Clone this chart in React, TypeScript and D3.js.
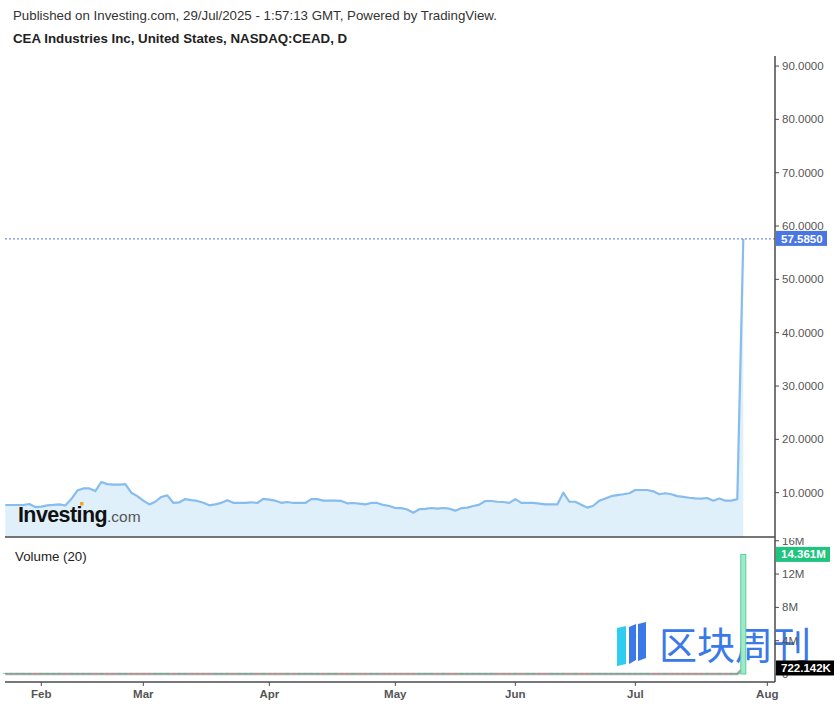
import React from "react";
import * as d3 from "d3";

// Daily closes (bar index 0 = late Jan 2025, last = 28 Jul 2025)
const closes: number[] = [
  7.69, 7.69, 7.69, 7.69, 7.88, 7.3, 7.4, 7.63, 7.7, 7.8,
  7.6, 8.8, 10.4, 10.8, 10.8, 10.3, 12.0, 11.6, 11.5, 11.5,
  11.6, 10.0, 9.35, 8.5, 7.8, 8.3, 9.2, 9.5, 8.1, 8.2,
  8.8, 8.6, 8.45, 8.1, 7.63, 7.8, 8.1, 8.6, 8.1, 8.1,
  8.1, 8.2, 8.07, 8.85, 8.7, 8.5, 8.1, 8.25, 8.07, 8.07,
  8.07, 8.8, 8.8, 8.5, 8.5, 8.5, 8.45, 8.0, 8.07, 7.95,
  7.8, 8.07, 8.07, 7.7, 7.5, 7.13, 7.1, 6.85, 6.25, 6.9,
  6.95, 7.13, 7.0, 7.13, 7.0, 6.63, 7.1, 7.2, 7.5, 7.75,
  8.44, 8.44, 8.3, 8.25, 8.1, 8.8, 8.1, 8.1, 8.1, 7.95,
  7.8, 7.8, 7.8, 10.0, 8.3, 8.3, 7.75, 7.2, 7.55, 8.5,
  8.9, 9.35, 9.55, 9.7, 9.9, 10.5, 10.5, 10.5, 10.25, 9.7,
  9.9, 9.7, 9.35, 9.2, 9.05, 8.95, 8.9, 9.0, 8.5, 8.9,
  8.5, 8.5, 8.8, 57.585,
];

// Daily volume, thousands of shares
const volumesK: number[] = [
  5, 4, 3, 5, 9, 12, 5, 4, 3, 6,
  8, 25, 40, 18, 10, 15, 30, 12, 8, 6,
  5, 14, 9, 11, 7, 6, 10, 8, 5, 4,
  6, 5, 4, 7, 5, 4, 6, 9, 4, 3,
  5, 4, 3, 8, 6, 5, 4, 5, 3, 4,
  3, 9, 6, 4, 3, 4, 3, 5, 3, 4,
  3, 5, 4, 6, 5, 8, 6, 5, 12, 5,
  4, 3, 4, 3, 4, 6, 5, 4, 5, 6,
  9, 5, 4, 4, 3, 6, 4, 3, 3, 4,
  3, 3, 3, 14, 5, 4, 5, 6, 5, 8,
  7, 6, 5, 4, 11.84, 5, 4, 3, 4, 5,
  4, 4, 3, 4, 3, 3, 4, 3, 5, 3,
  4, 4, 5, 14361,
];

const monthLabels = ["Feb", "Mar", "Apr", "May", "Jun", "Jul", "Aug"];
const monthStartIndex = [6, 23, 44, 65, 85, 105, 127];
const priceTicks = [10, 20, 30, 40, 50, 60, 70, 80, 90];
const volumeTicks = [0, 4e6, 8e6, 12e6, 16e6];
const volumeTickLabels = ["0", "4M", "8M", "12M", "16M"];
const maWindow = 20;

const headerLine1 =
  "Published on Investing.com, 29/Jul/2025 - 1:57:13 GMT, Powered by TradingView.";
const headerLine2 = "CEA Industries Inc, United States, NASDAQ:CEAD, D";

const FONT = "'Liberation Sans', Arial, Helvetica, sans-serif";

export default function App() {
  const W = 840;
  const H = 704;
  const paneLeft = 5;
  const axisX = 775;
  const priceTop = 56;
  const priceBottom = 537;
  const volBottom = 682;

  const x = d3.scaleLinear().domain([0, 127]).range([5.3, 5.3 + 127 * 6]);
  const yP = d3.scaleLinear().domain([1.69, 91.88]).range([priceBottom, priceTop]);
  const yV = d3.scaleLinear().domain([-0.96e6, 16.45e6]).range([volBottom, priceBottom]);

  const line = d3
    .line<number>()
    .x((_, i) => x(i))
    .y((d) => yP(d));
  const area = d3
    .area<number>()
    .x((_, i) => x(i))
    .y0(priceBottom)
    .y1((d) => yP(d));

  const vols = volumesK.map((v) => v * 1000);
  const ma = vols.map((_, i) => d3.mean(vols.slice(Math.max(0, i - maWindow + 1), i + 1)) as number);
  const maLine = d3
    .line<number>()
    .x((_, i) => x(i))
    .y((d) => yV(d));

  const last = closes[closes.length - 1];
  const lastVol = vols[vols.length - 1];
  const lastMA = ma[ma.length - 1];
  const fmtVol = (v: number) =>
    v >= 1e6 ? d3.format(".3f")(v / 1e6) + "M" : d3.format(".3f")(v / 1e3) + "K";

  const barW = 5;

  return (
    <div style={{ position: "fixed", left: 0, top: 0, width: W, height: H, background: "#fff" }}>
      <svg width={W} height={H} style={{ display: "block", fontFamily: FONT }}>
        <defs>
          <clipPath id="volClip">
            <rect x={0} y={priceBottom + 1} width={W} height={volBottom - priceBottom - 1} />
          </clipPath>
        </defs>
        <rect x={0} y={0} width={W} height={H} fill="#fff" />
        <text x={13} y={20} fontSize={13.3} fill="#333">{headerLine1}</text>
        <text x={13} y={43} fontSize={13.3} fontWeight="bold" fill="#222">{headerLine2}</text>

        {/* price area + line */}
        <path d={area(closes) ?? ""} fill="#dff0fa" />
        <path d={line(closes) ?? ""} fill="none" stroke="#86bcee" strokeWidth={2.2} strokeLinejoin="round" />

        {/* last price dashed line */}
        <line
          x1={paneLeft}
          x2={axisX}
          y1={yP(last)}
          y2={yP(last)}
          stroke="#4a72dc"
          strokeWidth={1}
          strokeDasharray="2,2"
        />

        {/* Investing.com logo */}
        <g>
          <text x={18} y={522} fontSize={21.5} fontWeight="bold" fill="#111" letterSpacing={-0.6}>
            Investing
            <tspan fontSize={15.5} fontWeight="normal" fill="#555" letterSpacing={0}>.com</tspan>
          </text>
          <rect x={80} y={502} width={3.5} height={3.5} fill="#f5a623" />
        </g>

        {/* watermark (under the volume bars) */}
        <g opacity={0.92}>
          <path d="M617,628 L626,626 L626,664 L617,666 Z" fill="#1ec8f0" />
          <path d="M629,627 L636,624 L636,660 L629,664 Z" fill="#2a6ee6" />
          <path d="M638,624 L646,622 L646,658 L638,661 Z" fill="#2a6ee6" />
          <text x={659} y={659} fontSize={38} fill="#2a6ee6" fontFamily="'Noto Sans CJK SC', sans-serif">
            区块周刊
          </text>
        </g>

        {/* pane borders */}
        <line x1={paneLeft} x2={axisX} y1={priceBottom} y2={priceBottom} stroke="#4a4a4a" strokeWidth={1.5} />
        <line x1={paneLeft} x2={axisX} y1={volBottom} y2={volBottom} stroke="#4a4a4a" strokeWidth={1.5} />
        <line x1={axisX} x2={axisX} y1={priceTop} y2={volBottom} stroke="#4a4a4a" strokeWidth={1.5} />

        {/* price axis */}
        {priceTicks.map((t) => (
          <g key={t}>
            <line x1={axisX} x2={axisX + 4} y1={yP(t)} y2={yP(t)} stroke="#4a4a4a" />
            <text x={782} y={yP(t) + 4} fontSize={11.5} fill="#555">
              {d3.format(".4f")(t)}
            </text>
          </g>
        ))}
        <rect x={axisX + 1} y={yP(last) - 8} width={51} height={15} fill="#4a76e4" />
        <text x={781} y={yP(last) + 4} fontSize={11.5} fontWeight="bold" fill="#fff">
          {d3.format(".4f")(last)}
        </text>

        {/* volume pane */}
        <text x={15} y={561} fontSize={13.3} fill="#222">Volume (20)</text>
        <g clipPath="url(#volClip)">
          <path d={maLine(ma) ?? ""} fill="none" stroke="#a8a8a8" strokeWidth={2.5} />
          {vols.map((v, i) => {
            const up = i === 0 ? true : closes[i] >= closes[i - 1];
            const y0 = yV(0);
            const yt = Math.min(yV(v), y0 - 1);
            const big = v > 1e6;
            return (
              <rect
                key={i}
                x={x(i) - barW / 2}
                y={yt}
                width={barW}
                height={y0 - yt}
                fill={big ? "#a2e8c9" : up ? "#3fa37a" : "#d07070"}
                stroke={big ? "#4fd39c" : "none"}
                strokeWidth={1}
                opacity={big ? 1 : 0.55}
              />
            );
          })}
          {volumeTicks.map((t, i) => (
            <g key={t}>
              <line x1={axisX} x2={axisX + 4} y1={yV(t)} y2={yV(t)} stroke="#4a4a4a" />
              <text x={782} y={yV(t) + 4} fontSize={11.5} fill="#555">
                {volumeTickLabels[i]}
              </text>
            </g>
          ))}
        </g>
        <rect x={axisX + 1} y={yV(lastVol) - 7.5} width={54} height={15} fill="#1fc47e" />
        <text x={781} y={yV(lastVol) + 4} fontSize={11.5} fontWeight="bold" fill="#fff">
          {fmtVol(lastVol)}
        </text>
        <rect x={axisX + 1} y={yV(lastMA) - 7.5} width={58} height={15} fill="#000" />
        <text x={781} y={yV(lastMA) + 4} fontSize={11.5} fontWeight="bold" fill="#fff">
          {fmtVol(lastMA)}
        </text>

        {/* x axis */}
        {monthLabels.map((m, i) => (
          <g key={m}>
            <line
              x1={x(monthStartIndex[i])}
              x2={x(monthStartIndex[i])}
              y1={volBottom}
              y2={volBottom + 4}
              stroke="#4a4a4a"
            />
            <text
              x={x(monthStartIndex[i])}
              y={698}
              fontSize={11.5}
              fontWeight="bold"
              fill="#555"
              textAnchor="middle"
            >
              {m}
            </text>
          </g>
        ))}
      </svg>
    </div>
  );
}
